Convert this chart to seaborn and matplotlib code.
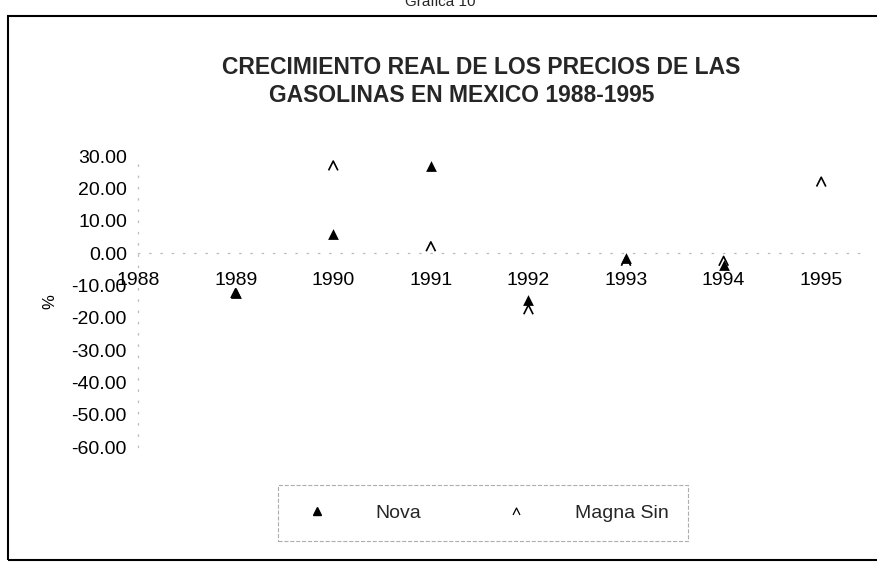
import numpy as np
import pandas as pd
import matplotlib
matplotlib.use('Agg')
import matplotlib.pyplot as plt
import seaborn as sns
from matplotlib.path import Path
from matplotlib.lines import Line2D
from matplotlib.patches import Rectangle

# datos
years = [1988, 1989, 1990, 1991, 1992, 1993, 1994, 1995]
nova = [np.nan, -12.5, 6.0, 27.0, -14.5, -1.5, -3.8, np.nan]
magna_sin = [np.nan, -12.5, 27.0, 2.0, -17.5, -2.5, -2.5, 22.0]
y_ticks = [-60, -50, -40, -30, -20, -10, 0, 10, 20, 30]

df = pd.DataFrame({'year': years, 'Nova': nova, 'Magna Sin': magna_sin})

sns.set_theme(style='white')
plt.rcParams['font.family'] = ['Liberation Sans', 'DejaVu Sans']

fig = plt.figure(figsize=(8.77, 5.62), dpi=100)
ax = fig.add_axes([0.1574, 0.2046, 0.8235, 0.5178])

# marcador "^" abierto para Magna Sin
caret = Path([(-1, -1), (0, 1), (1, -1)], [Path.MOVETO, Path.LINETO, Path.LINETO])

sns.scatterplot(data=df, x='year', y='Nova', marker='^', color='black', s=60,
                linewidth=0, ax=ax)
sns.scatterplot(data=df, x='year', y='Magna Sin', marker=caret, color='black', s=45, ax=ax)
coll = ax.collections[-1]
coll.set_facecolor('none')
coll.set_edgecolor('black')
coll.set_linewidth(1.2)
for c in ax.collections:
    c.set_clip_on(False)

ax.set_xlim(1988, 1995.4)
ax.set_ylim(-60, 30)
ax.set_xticks(years)
ax.set_xticklabels([str(y) for y in years])
ax.set_yticks(y_ticks)
ax.yaxis.set_major_formatter(matplotlib.ticker.FormatStrFormatter('%.2f'))
ax.tick_params(axis='x', length=0, pad=14, labelsize=14, colors='black')
ax.tick_params(axis='y', length=0, pad=8, labelsize=14, colors='black')
ax.set_xlabel('')
ax.set_ylabel('%', fontsize=12, labelpad=10, color='black')

ax.spines['top'].set_visible(False)
ax.spines['right'].set_visible(False)
ax.spines['bottom'].set_position(('data', 0))
for side in ['bottom', 'left']:
    ax.spines[side].set_color('#bbbbbb')
    ax.spines[side].set_linestyle((0, (1, 8)))
    ax.spines[side].set_linewidth(0.9)

# titulo
fig.text(481 / 877, 1 - 67 / 562, 'CRECIMIENTO REAL DE LOS PRECIOS DE LAS',
         ha='center', va='center', fontsize=16.5, weight='bold')
fig.text(462 / 877, 1 - 96 / 562, 'GASOLINAS EN MEXICO 1988-1995',
         ha='center', va='center', fontsize=16.5, weight='bold')
fig.text(440 / 877, 1 - 2 / 562, 'Gráfica 10', ha='center', va='center', fontsize=11)

# leyenda
handles = [
    Line2D([], [], marker='^', ls='none', color='black', markersize=6),
    Line2D([], [], marker=caret, ls='none', mfc='none', mec='black', mew=0.9, markersize=5),
]
leg = fig.legend(handles, ['Nova', 'Magna Sin'], ncol=2, loc='center',
                 bbox_to_anchor=(483 / 877, 1 - 513 / 562), bbox_transform=fig.transFigure,
                 fontsize=14, frameon=True, fancybox=False, handlelength=2,
                 handletextpad=2.0, columnspacing=3.9, borderpad=1.0)
frame = leg.get_frame()
frame.set_edgecolor('#999999')
frame.set_linestyle('--')
frame.set_linewidth(0.8)

# marco exterior
fig.add_artist(Rectangle((8 / 877, 2 / 562), 1.0, (560 - 16) / 562, transform=fig.transFigure,
                         fill=False, edgecolor='black', linewidth=1.5, clip_on=False))

fig.savefig('out.png', dpi=100)
